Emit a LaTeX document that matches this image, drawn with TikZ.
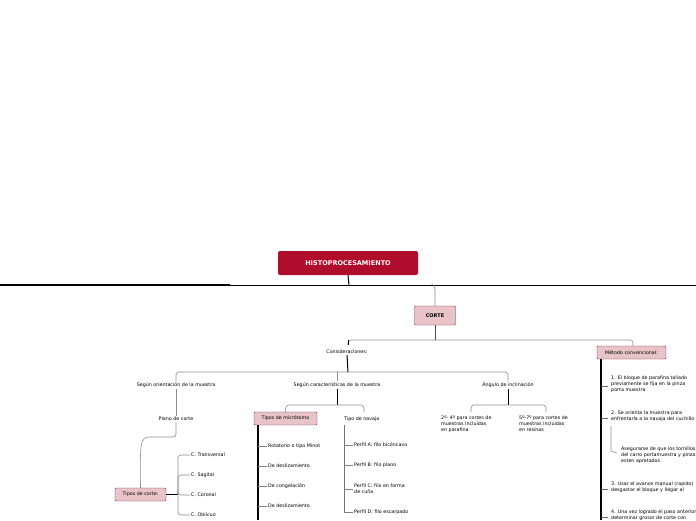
\documentclass[tikz,border=0pt]{standalone}
\usepackage{fontspec}
\setmainfont{DejaVu Sans}
\definecolor{rojo}{HTML}{B00C2C}
\definecolor{rosa}{HTML}{E8C4C8}
\definecolor{borde}{HTML}{7A2A3A}
\tikzset{
  raiz/.style={fill=rojo,rounded corners=2pt,text=white,font=\bfseries\fontsize{6.5}{7}\selectfont,minimum width=140pt,minimum height=24pt},
  caja/.style={fill=rosa,draw=borde,rounded corners=1pt,font=\fontsize{4.8}{5.5}\selectfont,inner sep=2pt,minimum height=13pt},
  hoja/.style={font=\fontsize{4.8}{5.8}\selectfont,inner sep=1pt,align=left},
  rama/.style={draw=black!45,line width=0.6pt,rounded corners=3pt},
  tronco/.style={draw=black,line width=1.2pt},
}
\begin{document}
\begin{tikzpicture}[x=1pt,y=-1pt]
\useasboundingbox[fill=white] (0,0) rectangle (696,520);

% main nodes
\node[raiz] (histo) at (348,263) {HISTOPROCESAMIENTO};
\node[caja,font=\bfseries\fontsize{5}{6}\selectfont,minimum width=41pt,minimum height=19pt] (corte) at (435,315.5) {CORTE};
\node[hoja] (consid) at (347,352) {Consideraciones:};
\node[caja,minimum width=69pt] (metodo) at (631.5,352.5) {Método convencional:};

% the long line
\draw[line width=0.8pt] (0,285) -- (696,285);
\draw[line width=1.4pt] (0,285) -- (230,285);
\draw[line width=1pt] (histo.south) -- (349,285);
\draw[rama] (433,285) -- (435,287) -- (corte.north);
\draw[black!70,line width=0.8pt] (corte.south) -- (435,340);
\draw[rama] (348,345) -- (348,340) -- (633,340) -- (633,346);
\draw[line width=1pt] (348,345) -- (348,340);

% Consideraciones
\node[hoja] (orient) at (176,385) {Según orientación de la muestra};
\node[hoja] (caract) at (337,385) {Según características de la muestra};
\node[hoja] (angulo) at (508,385) {Ángulo de inclinación};
\draw[line width=1pt] (consid.south) -- (348,372);
\draw[rama] (orient.north) -- (176,372) -- (508,372) -- (angulo.north);
\draw[rama] (337,372) -- (caract.north);

% orientacion
\node[hoja] (plano) at (176,419) {Plano de corte};
\node[caja,minimum width=51pt] (tcorte) at (140.5,494.5) {Tipos de corte:};
\draw[rama] (orient.south) -- (plano.north);
\draw[rama] (plano.south) -- (176,437) -- (152,437) .. controls (140,437) and (140,445) .. (tcorte.north);
\draw[line width=1.2pt] (tcorte.east) -- (178,494.5);
\foreach \y/\t in {455/C. Transversal,475/C. Sagital,495/C. Coronal,515/C. Oblicuo}{
  \node[hoja,anchor=west] (c\y) at (190,\y) {\t};
  \draw[rama] (178,494.5) -- (178,\y) -- (c\y.west);
}

% caracteristicas
\node[caja,minimum width=63pt] (micro) at (285.5,418.5) {Tipos de micrótomo};
\node[hoja,anchor=west] (navaja) at (343,419) {Tipo de navaja};
\draw[line width=1pt] (caract.south) -- (337,405);
\draw[rama] (micro.north) -- (286,405) -- (364,405) -- (364,412);
\draw[tronco] (258,425) -- (258,520);
\foreach \y/\t in {446/Rotatorio o tipo Minot,466/De deslizamiento,486/De congelación,506/De deslizamiento}{
  \node[hoja,anchor=west] (m\y) at (267,\y) {\t};
  \draw[black!50,line width=0.5pt] (258,\y) -- (m\y.west);
}
\draw[black!55,line width=0.9pt] (344,425) -- (344,512);
\foreach \y/\t in {445/{Perfil A: filo bicóncavo},465/{Perfil B: filo plano},489/{Perfil C: filo en forma\\de cuña},512/{Perfil D: filo escarpado}}{
  \node[hoja,anchor=west] (p\y) at (353,\y) {\t};
  \draw[black!50,line width=0.5pt] (344,\y) -- (p\y.west);
}

% angulo
\node[hoja,anchor=north west] (parafina) at (440,415) {2º- 4º para cortes de\\muestras incluidas\\en parafina};
\node[hoja,anchor=north west] (resina) at (518,415) {5º-7º para cortes de\\muestras incluidas\\en resinas};
\draw[line width=1pt] (angulo.south) -- (508,405);
\draw[rama] (471,412) -- (471,405) -- (546,405) -- (546,412);

% metodo
\draw[tronco] (601,359) -- (601,520);
\foreach \y/\t in {384/{1. El bloque de parafina tallado\\previamente se fija en la pinza\\porta muestra},416/{2. Se orienta la muestra para\\enfrentarla a la navaja del cuchillo},487/{3. Usar el avance manual (rapido)\\desgastar el bloque y llegar al},515/{4. Una vez logrado el paso anterior\\determinar grosor de corte con}}{
  \node[hoja,anchor=west] (s\y) at (610,\y) {\t};
  \draw[black!60,line width=0.5pt] (601,\y+2) -- (608,\y+2);
}
\node[hoja,anchor=west] (tornillo) at (620,455) {Asegurarse de que los tornillos\\del carro portamuestra y pinza\\esten apretados};
\draw[rama] (611,426) -- (611,448) .. controls (611,451) .. (617,453);
\end{tikzpicture}
\end{document}
